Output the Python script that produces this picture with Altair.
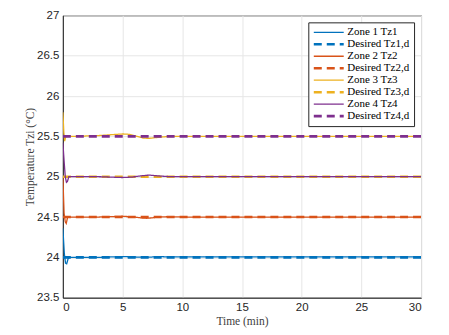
import altair as alt
import pandas as pd

# ---- data ----
t_z1 = [0, 0.12, 0.22, 0.32, 0.45, 0.6, 1, 2, 3, 4, 5, 6, 7, 8, 9, 10, 15, 20, 25, 30]
v_z1 = [24.36, 24.05, 23.93, 23.92, 23.99, 24.0, 24.0, 24.0, 24.0, 24.005, 24.01, 24.005, 24.0, 24.01, 24.005, 24.005, 24.005, 24.005, 24.005, 24.005]

t_z2 = [0, 0.1, 0.2, 0.28, 0.4, 0.6, 1, 2, 3, 4, 5, 6, 6.5, 7, 7.5, 8, 9, 10, 15, 20, 25, 30]
v_z2 = [25.0, 24.55, 24.44, 24.42, 24.5, 24.5, 24.5, 24.5, 24.5, 24.505, 24.51, 24.5, 24.49, 24.485, 24.49, 24.5, 24.505, 24.5, 24.5, 24.5, 24.5, 24.5]

t_z3 = [0, 0.08, 0.15, 0.25, 0.4, 0.7, 1, 2, 3, 4, 5, 5.6, 6.2, 6.7, 7.2, 7.8, 8.5, 9.5, 10, 15, 20, 25, 30]
v_z3 = [25.8, 25.55, 25.44, 25.5, 25.5, 25.5, 25.5, 25.505, 25.51, 25.52, 25.53, 25.525, 25.5, 25.48, 25.475, 25.485, 25.495, 25.5, 25.5, 25.5, 25.5, 25.5, 25.5]

t_z4 = [0, 0.1, 0.2, 0.3, 0.38, 0.5, 0.7, 1, 2, 3, 4, 5, 5.8, 6.5, 7.2, 8, 9, 10, 15, 20, 25, 30]
v_z4 = [25.42, 25.2, 25.0, 24.93, 24.94, 25.0, 25.0, 25.0, 25.0, 25.0, 24.995, 24.99, 24.995, 25.01, 25.02, 25.01, 25.0, 25.0, 25.0, 25.0, 25.0, 25.0]

t_des = [0, 30]
desired = [24.0, 24.5, 25.0, 25.5]

series = ["Zone 1 Tz1", "Desired Tz1,d",
          "Zone 2 Tz2", "Desired Tz2,d",
          "Zone 3 Tz3", "Desired Tz3,d",
          "Zone 4 Tz4", "Desired Tz4,d"]
colors = ["#0072BD", "#0072BD", "#D95319", "#D95319",
          "#EDB120", "#EDB120", "#7E2F8E", "#7E2F8E"]
dashes = [[1, 0], [8, 5]] * 4
widths = [1.3, 2.6] * 4

rows = []
actual = [(t_z1, v_z1), (t_z2, v_z2), (t_z3, v_z3), (t_z4, v_z4)]
for i, (ts, vs) in enumerate(actual):
    for t, v in zip(ts, vs):
        rows.append({"t": t, "T": v, "series": series[2 * i], "order": 2 * i})
    for t in t_des:
        rows.append({"t": t, "T": desired[i], "series": series[2 * i + 1], "order": 2 * i + 1})
df = pd.DataFrame(rows)

legend = alt.Legend(
    title=None, orient="top-right", offset=7,
    symbolType="M-3,0H3", symbolSize=100, symbolOffset=10,
    labelFont="Liberation Serif", labelFontSize=11, labelColor="#000000",
    strokeColor="#262626", fillColor="white", padding=4,
    rowPadding=0.5, labelOffset=12,
)

chart = alt.Chart(df).mark_line(clip=True).encode(
    x=alt.X("t:Q", scale=alt.Scale(domain=[0, 30], nice=False),
            axis=alt.Axis(values=[0, 5, 10, 15, 20, 25, 30], title="Time (min)")),
    y=alt.Y("T:Q", scale=alt.Scale(domain=[23.5, 27], nice=False, zero=False),
            axis=alt.Axis(values=[23.5, 24, 24.5, 25, 25.5, 26, 26.5, 27],
                          format=".1~f", title="Temperature Tzi (°C)")),
    color=alt.Color("series:N", scale=alt.Scale(domain=series, range=colors), legend=legend),
    strokeDash=alt.StrokeDash("series:N", scale=alt.Scale(domain=series, range=dashes), legend=legend),
    strokeWidth=alt.StrokeWidth("series:N", scale=alt.Scale(type="ordinal", domain=series, range=widths), legend=legend),
    detail="series:N",
    order="order:Q",
).properties(
    width=359, height=283,
    autosize=alt.AutoSizeParams(type="none"),
    padding={"left": 55, "top": 7, "right": 20, "bottom": 40},
).configure_view(
    stroke="#262626", strokeWidth=1
).configure_axis(
    labelFont="Liberation Sans", labelFontSize=11.5, labelColor="#262626",
    titleFont="Liberation Serif", titleFontSize=11.5, titleColor="#404040", titleFontWeight="normal",
    domainColor="#262626", ticks=False,
    gridColor="#e6e6e6", gridWidth=1,
).configure_axisX(
    labelPadding=4, titlePadding=2
).configure_axisY(
    labelPadding=4, titlePadding=1
)

chart.save("out.html", embed_options={"renderer": "svg", "actions": False})
